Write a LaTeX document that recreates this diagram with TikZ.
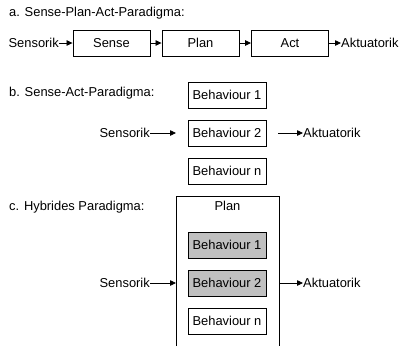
\documentclass[tikz,border=0pt]{standalone}
\usepackage{fontspec}
\setmainfont{Liberation Sans}
\usetikzlibrary{arrows.meta}
\definecolor{shade}{HTML}{C0C0C0}
\begin{document}
\begin{tikzpicture}[x=1pt,y=-1pt,
  every node/.style={font=\fontsize{12.9}{15}\selectfont},
  box/.style={draw, line width=0.9pt, minimum width=77pt, minimum height=26pt, inner sep=0pt},
  bbox/.style={box, minimum width=78pt},
  gbox/.style={bbox, fill=shade},
  txt/.style={inner sep=0pt},
  flow/.style={line width=0.8pt, -{Triangle[length=6pt,width=5.5pt]}},
]
\useasboundingbox (0,0) rectangle (399,346);

% a. sense-plan-act chain
\node[txt, anchor=west] (ta) at (9,13) {a. Sense-Plan-Act-Paradigma:};
\node[box] (sense) at (111.5,43) {Sense};
\node[box] (plan) at (200.5,43) {Plan};
\node[box] (act) at (290,43) {Act};
\node[txt, anchor=east] (sa) at (59,43) {Sensorik};
\node[txt, anchor=west] (aa) at (341,43) {Aktuatorik};
\draw[flow] (sa.east) -- (sense.west);
\draw[flow] (sense.east) -- (plan.west);
\draw[flow] (plan.east) -- (act.west);
\draw[flow] (act.east) -- (aa.west);

% b. parallel behaviours
\node[txt, anchor=west] (tb) at (9,93) {b. Sense-Act-Paradigma:};
\node[bbox] (b1) at (227,95) {Behaviour 1};
\node[bbox] (b2) at (227,133) {Behaviour 2};
\node[bbox] (bn) at (227,171) {Behaviour n};
\node[txt, anchor=east] (sb) at (150,133) {Sensorik};
\node[txt, anchor=west] (ab) at (303,133) {Aktuatorik};
\coordinate (bin) at (176,133);
\coordinate (bout) at (278,133);
\draw[flow] (sb.east) -- (bin);
\draw[flow] (bout) -- (ab.west);

% c. hybrid: behaviours inside a planning layer
\node[txt, anchor=west] (tc) at (9,207) {c. Hybrides Paradigma:};
\coordinate (fl) at (176,346);
\coordinate (ftl) at (176,196);
\coordinate (ftr) at (279,196);
\coordinate (fr) at (279,346);
\draw[line width=0.9pt] (fl) -- (ftl) -- (ftr) -- (fr);
\node (pl) at (227.5,206) {Plan};
\node[gbox] (c1) at (227,245) {Behaviour 1};
\node[gbox] (c2) at (227,283) {Behaviour 2};
\node[bbox] (cn) at (227,321) {Behaviour n};
\node[txt, anchor=east] (sc) at (150,283) {Sensorik};
\node[txt, anchor=west] (ac) at (303,283) {Aktuatorik};
\coordinate (cin) at (176,283);
\coordinate (cout) at (279,283);
\draw[flow] (sc.east) -- (cin);
\draw[flow] (cout) -- (ac.west);
\end{tikzpicture}
\end{document}
